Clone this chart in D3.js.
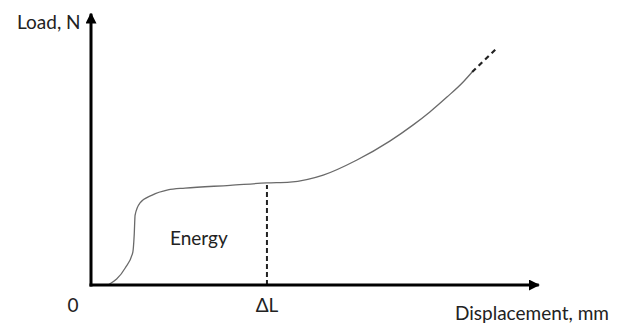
<html>
<head>
<meta charset="utf-8">
<title>Load vs displacement</title>
<style>
body { margin: 0; background: #fff; }
text { font-family: Lato, "Open Sans", sans-serif; fill: #222; }
</style>
</head>
<body>
<script src="https://cdn.jsdelivr.net/npm/d3@7"></script>
<script>
// curve (arbitrary units)
var disp = [0.38, 0.76, 0.93, 0.96, 0.98, 1.09, 1.36, 1.71, 2.09, 3.09, 3.91, 4.42, 5.16, 5.91, 6.64, 7.16, 7.53, 7.91, 8.27, 8.47];
var load = [0.00, 0.63, 1.22, 1.85, 2.59, 3.04, 3.33, 3.52, 3.59, 3.69, 3.78, 3.81, 4.07, 4.63, 5.33, 5.93, 6.41, 6.96, 7.52, 7.89];
// dashed continuation at the end
var extDisp = [8.47, 9.0];
var extLoad = [7.89, 8.74];
var deltaL = 3.91;
var xLabels = ["0", "\u0394L"];

var W = 624, H = 323;
var x = d3.scaleLinear().domain([0, 10]).range([91, 541]);
var y = d3.scaleLinear().domain([0, 10]).range([285, 15]);

var svg = d3.select("body").append("svg")
  .attr("width", W).attr("height", H);

var defs = svg.append("defs");
defs.append("marker")
  .attr("id", "arr")
  .attr("viewBox", "0 0 10 10")
  .attr("refX", 9).attr("refY", 5)
  .attr("markerWidth", 11).attr("markerHeight", 11)
  .attr("markerUnits", "userSpaceOnUse")
  .attr("orient", "auto")
  .append("path")
  .attr("d", "M0,0 L10,5 L0,10 Z")
  .attr("fill", "#000");

var line = d3.line()
  .x(function(d) { return x(d[0]); })
  .y(function(d) { return y(d[1]); })
  .curve(d3.curveMonotoneX);

var pts = d3.zip(disp, load);

svg.append("path")
  .attr("d", line(pts))
  .attr("fill", "none")
  .attr("stroke", "#6a6a6a")
  .attr("stroke-width", 1.3);

svg.append("path")
  .attr("d", d3.line().x(function(d) { return x(d[0]); }).y(function(d) { return y(d[1]); })(d3.zip(extDisp, extLoad)))
  .attr("fill", "none")
  .attr("stroke", "#222")
  .attr("stroke-width", 2.2)
  .attr("stroke-dasharray", "5,4");

// dashed line at delta L, up to the curve
var li = disp.indexOf(deltaL);
svg.append("line")
  .attr("x1", x(deltaL)).attr("x2", x(deltaL))
  .attr("y1", y(0)).attr("y2", y(load[li]) + 2)
  .attr("stroke", "#222")
  .attr("stroke-width", 2)
  .attr("stroke-dasharray", "5,3");

// axes
svg.append("line")
  .attr("x1", x(0)).attr("y1", y(0) + 1.5)
  .attr("x2", x(0)).attr("y2", y(10.05))
  .attr("stroke", "#000").attr("stroke-width", 3)
  .attr("marker-end", "url(#arr)");

svg.append("line")
  .attr("x1", x(0) - 1.5).attr("y1", y(0))
  .attr("x2", x(9.95)).attr("y2", y(0))
  .attr("stroke", "#000").attr("stroke-width", 3)
  .attr("marker-end", "url(#arr)");

// labels
svg.append("text")
  .attr("x", 17).attr("y", 29)
  .style("font-size", "19px")
  .text("Load, N");

svg.append("text")
  .attr("x", 455).attr("y", 320)
  .style("font-size", "19px")
  .text("Displacement, mm");

svg.selectAll(".xl")
  .data([0, deltaL])
  .enter().append("text")
  .attr("x", function(d, i) { return i === 0 ? x(d) - 18 : x(d); })
  .attr("y", 312)
  .attr("text-anchor", "middle")
  .style("font-size", "19px")
  .text(function(d, i) { return xLabels[i]; });

svg.append("text")
  .attr("x", 170).attr("y", 245)
  .style("font-size", "19px")
  .text("Energy");
</script>
</body>
</html>
